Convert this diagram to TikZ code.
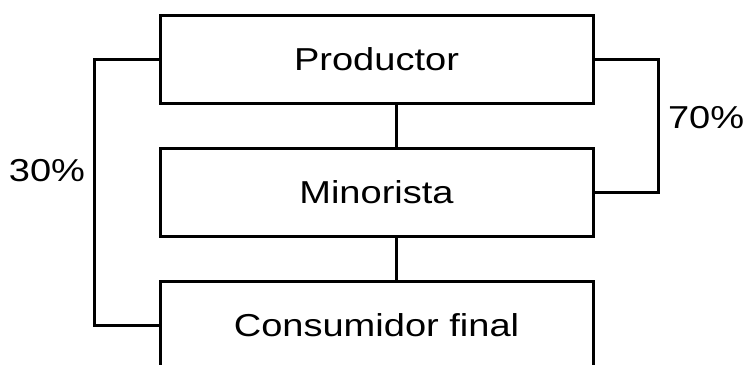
\documentclass[tikz,border=0pt]{standalone}
\usepackage{fontspec}
\setmainfont{Liberation Sans}[FakeStretch=1.2]
\begin{document}
\begin{tikzpicture}[x=1pt, y=-1pt, node distance=133pt, line width=3pt,
	every node/.style={font=\fontsize{31.7}{38}\selectfont},
	box/.style={draw, minimum width=433pt, minimum height=88pt, inner sep=0pt}]
	\useasboundingbox (0,0) rectangle (749,364);
	\node[box] (P) at (376.5,59) {Productor};
	\node[box] (M) [below of=P] {Minorista};
	\node[box] (C) [below of=M] {Consumidor final};
	\coordinate (pl) at ([xshift=-64pt]P.west);
	\coordinate (pr) at ([xshift=64pt]P.east);
	\draw ([xshift=20pt]P.south) to ([xshift=20pt]M.north);
	\draw ([xshift=20pt]M.south) to ([xshift=20pt]C.north);
	\draw (P.west) -- (pl) |- node [pos=0.21, left, inner sep=8pt] {30\%} (C.west);
	\draw (P.east) -- (pr) |- node [pos=0.22, right, inner sep=8pt] {70\%} (M.east);
\end{tikzpicture}
\end{document}
